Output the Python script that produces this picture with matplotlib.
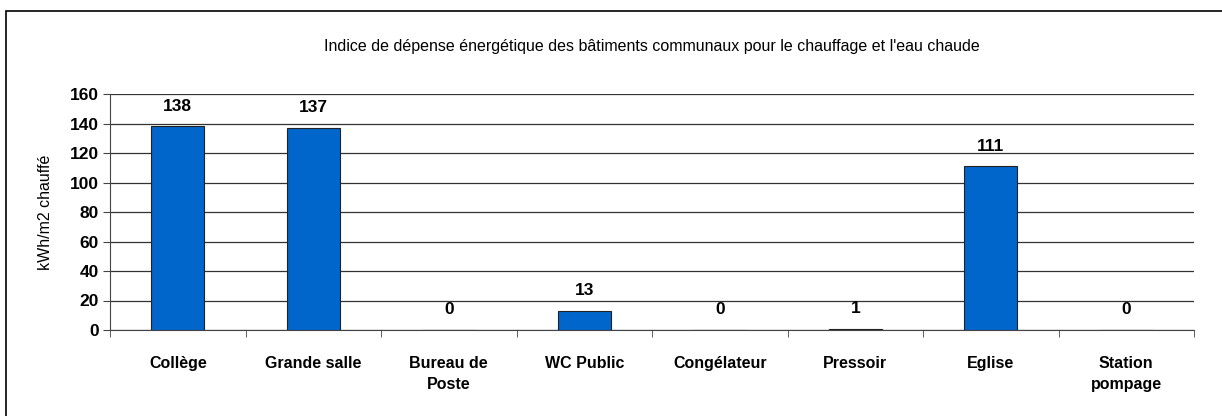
import matplotlib.pyplot as plt
from matplotlib.patches import Rectangle

plt.rcParams['font.family'] = ['Liberation Sans', 'DejaVu Sans']

categories = ["Collège", "Grande salle", "Bureau de\nPoste", "WC Public",
              "Congélateur", "Pressoir", "Eglise", "Station\npompage"]
values = [138, 137, 0, 13, 0, 1, 111, 0]
yticks = [0, 20, 40, 60, 80, 100, 120, 140, 160]

title = "Indice de dépense énergétique des bâtiments communaux pour le chauffage et l'eau chaude"
ylabel = "kWh/m2 chauffé"

fig = plt.figure(figsize=(12.22, 4.16), dpi=100)
# outer chart border (runs off the right and bottom edges)
fig.patches.append(Rectangle((6 / 1222, -10 / 416), 1230 / 1222, 415 / 416,
                             transform=fig.transFigure, fill=False,
                             edgecolor="black", linewidth=1.2))

ax = fig.add_axes([110 / 1222, 86 / 416, 1084 / 1222, 236 / 416])
x = list(range(len(categories)))
ax.bar(x, values, width=0.39, color="#0066CC", edgecolor="#222222",
       linewidth=0.8, zorder=3)
for xi, v in zip(x, values):
    ax.annotate(str(v), (xi, v), xytext=(0, 9), textcoords="offset points",
                ha="center", va="bottom", fontsize=12.5, fontweight="bold")

ax.set_xlim(-0.5, len(categories) - 0.5)
ax.set_ylim(0, 160)
ax.set_yticks(yticks)
ax.set_yticklabels([str(t) for t in yticks], fontsize=12.5, fontweight="bold")
ax.set_xticks(x)
ax.set_xticklabels(categories, fontsize=11.5, fontweight="bold", linespacing=1.5)
ax.set_xticks([i - 0.5 for i in range(len(categories) + 1)], minor=True)
ax.tick_params(axis="x", which="major", length=0, pad=19)
ax.tick_params(axis="x", which="minor", length=5, color="#444444")
ax.tick_params(axis="y", length=5, color="#444444", pad=3)
ax.yaxis.grid(True, color="#333333", linewidth=0.9, zorder=0)
for s in ["top", "right"]:
    ax.spines[s].set_visible(False)
ax.spines["left"].set_color("#444444")
ax.spines["bottom"].set_color("#444444")
ax.set_ylabel(ylabel, fontsize=11.5, labelpad=12)

fig.text(652 / 1222, 1 - 46 / 416, title, ha="center", va="center", fontsize=11.5)

fig.savefig("out.png", dpi=100)
